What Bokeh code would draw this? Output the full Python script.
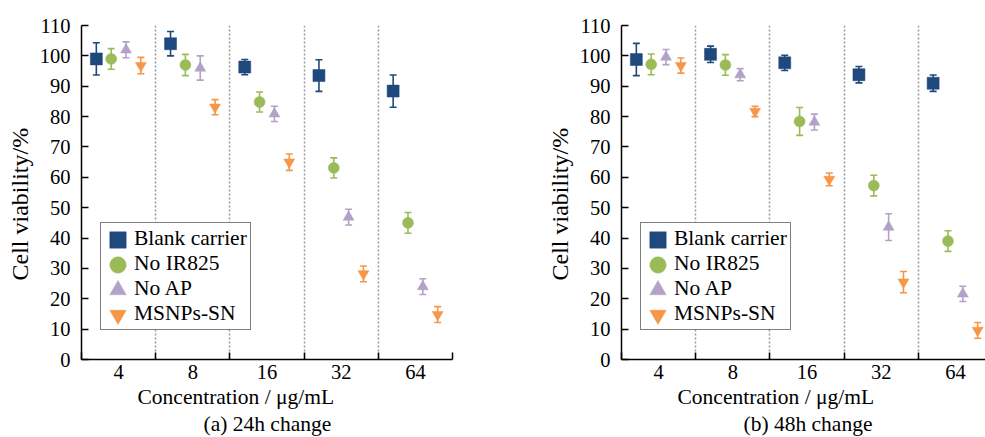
from bokeh.plotting import figure
from bokeh.models import (ColumnDataSource, Whisker, FixedTicker, Legend, LegendItem,
                          Title, Range1d, TeeHead)
from bokeh.layouts import row
from bokeh.embed import file_html
from bokeh.resources import INLINE

# ---------------- data ----------------
concentrations = ["4", "8", "16", "32", "64"]
series_names = ["Blank carrier", "No IR825", "No AP", "MSNPs-SN"]

# 24 h
blank_24 = [99.0, 104.0, 96.3, 93.5, 88.4]
blank_24_err = [5.3, 4.0, 2.5, 5.2, 5.3]
noir_24 = [99.0, 97.0, 84.8, 63.1, 45.0]
noir_24_err = [3.4, 3.5, 3.3, 3.3, 3.4]
noap_24 = [102.0, 96.0, 80.9, 46.9, 24.0]
noap_24_err = [2.6, 4.0, 2.5, 2.6, 2.6]
msnp_24 = [96.8, 83.1, 65.0, 28.2, 14.8]
msnp_24_err = [2.7, 2.5, 2.7, 2.6, 2.6]

# 48 h
blank_48 = [98.8, 100.5, 97.7, 93.8, 91.0]
blank_48_err = [5.3, 2.7, 2.5, 2.7, 2.7]
noir_48 = [97.2, 97.0, 78.4, 57.3, 39.0]
noir_48_err = [3.4, 3.4, 4.6, 3.4, 3.4]
noap_48 = [99.6, 93.8, 78.2, 43.6, 21.6]
noap_48_err = [2.5, 2.0, 2.6, 4.4, 2.5]
msnp_48 = [96.8, 81.7, 59.3, 25.5, 9.6]
msnp_48_err = [2.5, 1.7, 2.1, 3.5, 2.6]

y_ticks = list(range(0, 111, 10))

# ---------------- styles ----------------
colors = ["#1F497D", "#9BBB59", "#B3A2C7", "#F79646"]
markers = ["square", "circle", "triangle", "inverted_triangle"]
sizes = [12, 11, 11, 11]
offsets = [-0.3, -0.1, 0.1, 0.3]
FONT = "Liberation Serif"
TXT = "21.5px"


def make_panel(values, errors, caption, width, min_right, x_end):
    p = figure(width=width, height=437, x_range=Range1d(0, x_end), y_range=Range1d(0, 110),
               output_backend="svg", toolbar_location=None,
               min_border_left=81, min_border_right=min_right,
               min_border_top=25, min_border_bottom=78)
    p.outline_line_color = None
    p.background_fill_color = "white"
    p.border_fill_color = "white"

    centers = [i + 0.5 for i in range(len(concentrations))]
    renderers = []
    for k, name in enumerate(series_names):
        xs = [c + offsets[k] for c in centers]
        vals = values[k]
        errs = errors[k]
        src = ColumnDataSource(dict(x=xs, y=vals,
                                    upper=[v + e for v, e in zip(vals, errs)],
                                    lower=[v - e for v, e in zip(vals, errs)]))
        w = Whisker(base="x", upper="upper", lower="lower", source=src, dimension="height",
                    line_color=colors[k], line_width=1.6,
                    upper_head=TeeHead(size=7, line_color=colors[k], line_width=1.6),
                    lower_head=TeeHead(size=7, line_color=colors[k], line_width=1.6))
        p.add_layout(w)
        r = p.scatter("x", "y", source=src, marker=markers[k], size=sizes[k],
                      fill_color=colors[k], line_color=colors[k], line_width=0.5)
        renderers.append(r)

    # main legend: box + labels
    legend = Legend(items=[LegendItem(label=n, renderers=[r]) for n, r in zip(series_names, renderers)],
                    location=(19, 29), glyph_height=25, glyph_width=27, spacing=0,
                    padding=3, margin=0, label_standoff=3, label_height=25,
                    label_text_font=FONT, label_text_font_size=TXT, label_text_color="black",
                    border_line_color="black", border_line_width=1.5,
                    background_fill_color="white", background_fill_alpha=1.0)
    p.add_layout(legend, "center")
    # enlarged legend symbols drawn over the small ones
    for k, r in enumerate(renderers):
        big = Legend(items=[LegendItem(label=" ", renderers=[r])],
                     location=(15.5, 99.5 - 25 * k), glyph_height=41, glyph_width=41,
                     spacing=0, padding=0, margin=0, label_standoff=0,
                     label_text_font_size="1px",
                     border_line_color=None, background_fill_alpha=0.0)
        p.add_layout(big, "center")

    # x axis
    xa = p.xaxis[0]
    xa.ticker = FixedTicker(ticks=centers, minor_ticks=list(range(0, 6)))
    xa.major_label_overrides = {c: lab for c, lab in zip(centers, concentrations)}
    xa.major_tick_in = 0
    xa.major_tick_out = 0
    xa.minor_tick_in = 7
    xa.minor_tick_out = 0
    xa.minor_tick_line_color = "black"
    xa.minor_tick_line_width = 1.5
    xa.axis_line_color = "black"
    xa.axis_line_width = 1.5
    xa.major_label_standoff = 5
    xa.major_label_text_font = FONT
    xa.major_label_text_font_size = "20.5px"
    xa.major_label_text_color = "black"

    # y axis
    ya = p.yaxis[0]
    ya.ticker = FixedTicker(ticks=y_ticks)
    ya.major_tick_in = 7
    ya.major_tick_out = 0
    ya.minor_tick_line_color = None
    ya.major_tick_line_color = "black"
    ya.major_tick_line_width = 1.5
    ya.axis_line_color = "black"
    ya.axis_line_width = 1.5
    ya.major_label_standoff = 11
    ya.major_label_text_font = FONT
    ya.major_label_text_font_size = "20.5px"
    ya.major_label_text_color = "black"

    # y axis title (positioned like the original, a little below the frame centre)
    p.add_layout(Title(text="Cell viability/%", align="left", offset=79, standoff=8,
                       text_font=FONT, text_font_size="24px", text_font_style="normal",
                       text_color="black"), "left")

    # grids
    p.ygrid.visible = False
    p.xgrid.ticker = FixedTicker(ticks=[1, 2, 3, 4])
    p.xgrid.grid_line_color = "#9a9a9a"
    p.xgrid.grid_line_dash = "2 2"
    p.xgrid.grid_line_width = 1.5

    # titles below
    p.add_layout(Title(text="Concentration / μg/mL", align="left", offset=56, standoff=2,
                       text_font=FONT, text_font_size=TXT, text_font_style="normal",
                       text_color="black"), "below")
    p.add_layout(Title(text=caption, align="left", offset=122, standoff=0,
                       text_font=FONT, text_font_size=TXT, text_font_style="normal",
                       text_color="black"), "below")
    return p


p1 = make_panel([blank_24, noir_24, noap_24, msnp_24],
                [blank_24_err, noir_24_err, noap_24_err, msnp_24_err],
                "(a) 24h change", 540, 88, 5.0)
p2 = make_panel([blank_48, noir_48, noap_48, msnp_48],
                [blank_48_err, noir_48_err, noap_48_err, msnp_48_err],
                "(b) 48h change", 445, 0, 364 / 74.2)

layout = row(p1, p2)
open("out.html", "w").write(file_html(layout, INLINE))
